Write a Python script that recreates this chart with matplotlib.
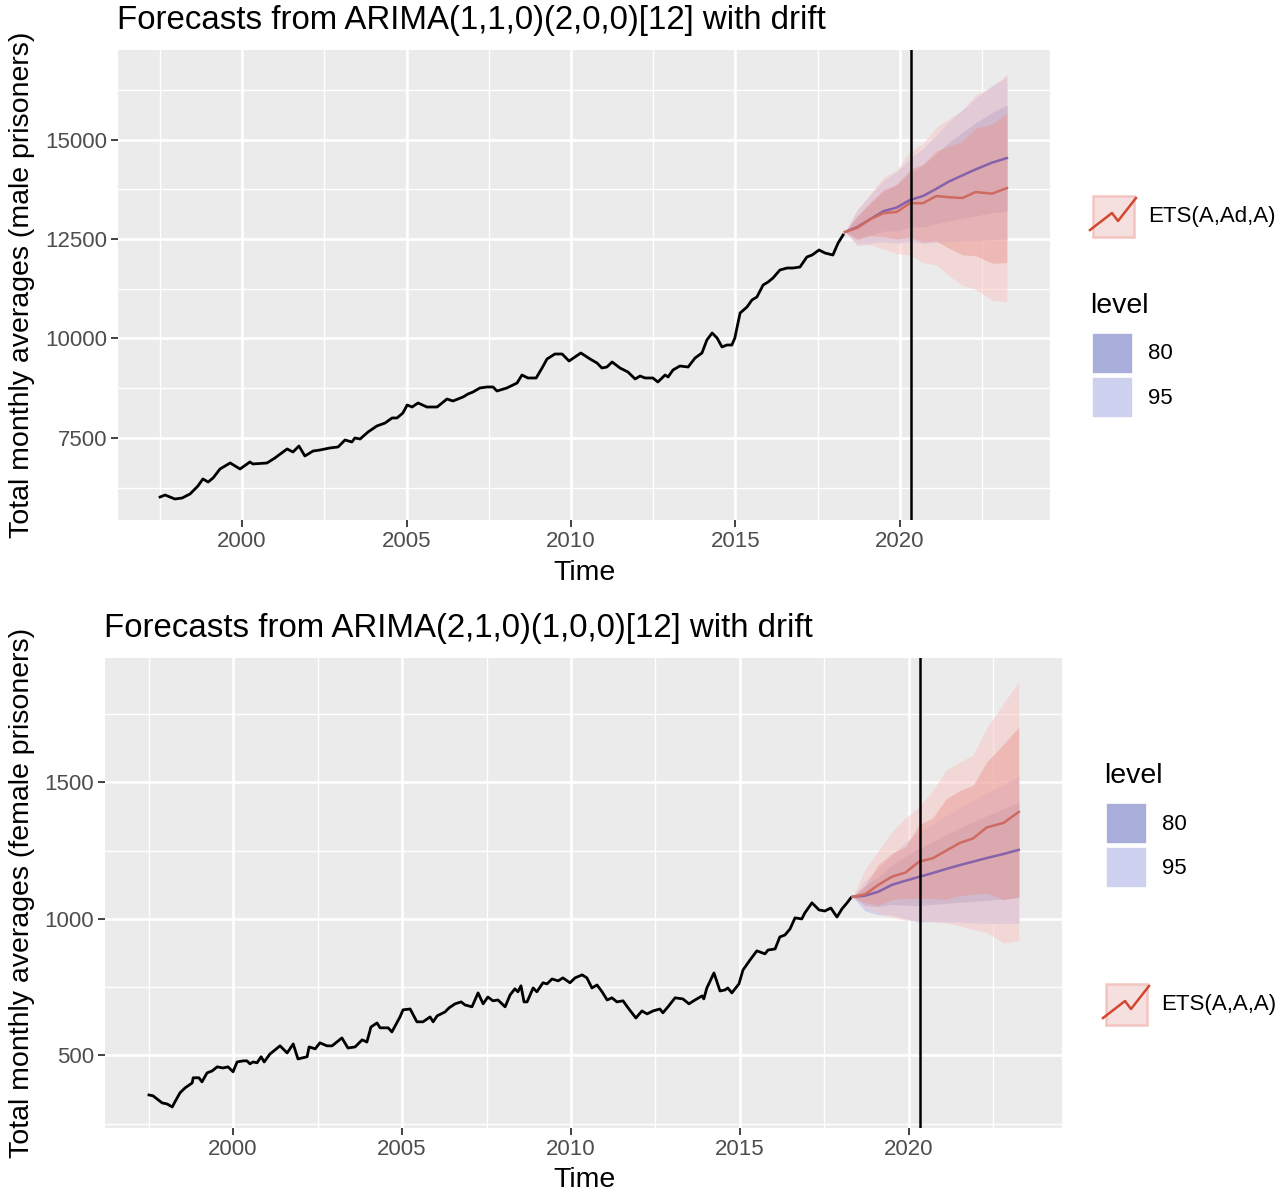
import numpy as np
import matplotlib
matplotlib.use("Agg")
from matplotlib import pyplot as plt
from matplotlib.patches import Rectangle
from matplotlib.lines import Line2D

plt.rcParams['font.family'] = ['Liberation Sans', 'DejaVu Sans']

W, H = 1288, 1193

# ---- male series ----
male_t = [1997.51, 1997.66, 1997.96, 1998.18, 1998.42, 1998.66, 1998.81, 1998.97, 1999.12, 1999.33,
          1999.64, 1999.94, 2000.24, 2000.33, 2000.76, 2001.0, 2001.37, 2001.55, 2001.73, 2001.91,
          2002.16, 2002.37, 2002.67, 2002.92, 2003.13, 2003.34, 2003.43, 2003.59, 2003.83, 2004.1,
          2004.35, 2004.56, 2004.71, 2004.89, 2005.02, 2005.17, 2005.35, 2005.62, 2005.93, 2006.23,
          2006.41, 2006.72, 2006.87, 2007.02, 2007.23, 2007.45, 2007.63, 2007.75, 2008.05, 2008.36,
          2008.51, 2008.69, 2008.94, 2009.12, 2009.27, 2009.51, 2009.73, 2009.94, 2010.12, 2010.3,
          2010.58, 2010.79, 2010.94, 2011.09, 2011.25, 2011.49, 2011.73, 2011.95, 2012.1, 2012.25,
          2012.49, 2012.64, 2012.86, 2012.95, 2013.1, 2013.31, 2013.56, 2013.77, 2013.98, 2014.13,
          2014.29, 2014.44, 2014.59, 2014.74, 2014.89, 2014.98, 2015.14, 2015.35, 2015.5, 2015.65,
          2015.84, 2015.99, 2016.14, 2016.35, 2016.57, 2016.75, 2016.96, 2017.17, 2017.33, 2017.54,
          2017.72, 2017.96, 2018.12, 2018.27]
male_v = [6016, 6066, 5966, 5991, 6092, 6293, 6469, 6393, 6494, 6720,
          6871, 6720, 6896, 6846, 6871, 6997, 7223, 7147, 7298, 7047,
          7172, 7197, 7248, 7273, 7449, 7399, 7499, 7474, 7650, 7801,
          7876, 8002, 8002, 8127, 8328, 8278, 8379, 8278, 8278, 8479,
          8429, 8530, 8605, 8655, 8756, 8781, 8781, 8680, 8756, 8881,
          9082, 9007, 9007, 9258, 9484, 9610, 9610, 9434, 9535, 9635,
          9484, 9384, 9258, 9283, 9409, 9258, 9158, 8982, 9057, 9007,
          9007, 8906, 9082, 9032, 9208, 9308, 9283, 9509, 9635, 9962,
          10138, 10012, 9786, 9836, 9836, 10012, 10640, 10791, 10967, 11042,
          11344, 11419, 11520, 11721, 11771, 11771, 11796, 12048, 12098, 12224,
          12148, 12098, 12400, 12600]

# ---- female series ----
female_t = [1997.51, 1997.63, 1997.9, 1998.05, 1998.2, 1998.28, 1998.43, 1998.58, 1998.79, 1998.82,
            1998.99, 1999.08, 1999.23, 1999.38, 1999.53, 1999.7, 1999.85, 2000.0, 2000.12, 2000.3,
            2000.41, 2000.5, 2000.59, 2000.71, 2000.83, 2000.92, 2001.09, 2001.24, 2001.39, 2001.6,
            2001.78, 2001.92, 2002.19, 2002.25, 2002.43, 2002.57, 2002.78, 2002.93, 2003.22, 2003.4,
            2003.61, 2003.82, 2003.96, 2004.08, 2004.26, 2004.35, 2004.59, 2004.7, 2004.94, 2005.03,
            2005.24, 2005.44, 2005.62, 2005.83, 2005.92, 2006.04, 2006.27, 2006.39, 2006.57, 2006.75,
            2006.86, 2007.07, 2007.25, 2007.4, 2007.54, 2007.69, 2007.84, 2008.05, 2008.2, 2008.34,
            2008.43, 2008.52, 2008.61, 2008.7, 2008.88, 2008.99, 2009.17, 2009.29, 2009.44, 2009.62,
            2009.76, 2009.97, 2010.12, 2010.33, 2010.47, 2010.62, 2010.77, 2010.92, 2011.07, 2011.21,
            2011.36, 2011.54, 2011.69, 2011.92, 2012.1, 2012.25, 2012.43, 2012.63, 2012.72, 2012.87,
            2013.08, 2013.31, 2013.49, 2013.67, 2013.88, 2013.93, 2014.02, 2014.23, 2014.41, 2014.56,
            2014.64, 2014.76, 2014.97, 2015.09, 2015.3, 2015.5, 2015.74, 2015.83, 2016.04, 2016.18,
            2016.33, 2016.48, 2016.63, 2016.83, 2016.92, 2017.13, 2017.34, 2017.51, 2017.69, 2017.87,
            2018.02, 2018.17, 2018.28]
female_v = [355, 352, 326, 322, 311, 330, 363, 381, 399, 418,
            418, 403, 436, 443, 458, 454, 458, 440, 476, 480,
            480, 469, 476, 473, 495, 476, 505, 520, 535, 509,
            542, 487, 495, 531, 524, 546, 535, 535, 564, 527,
            531, 557, 549, 604, 619, 601, 601, 586, 641, 667,
            670, 623, 623, 641, 623, 645, 659, 674, 689, 696,
            685, 678, 729, 689, 714, 700, 703, 678, 722, 744,
            733, 755, 696, 696, 747, 733, 766, 762, 780, 773,
            784, 766, 784, 795, 784, 747, 758, 733, 703, 711,
            696, 700, 674, 637, 663, 652, 663, 670, 656, 678,
            711, 707, 689, 703, 718, 707, 747, 802, 736, 740,
            747, 729, 762, 813, 850, 883, 872, 886, 890, 934,
            941, 963, 1004, 1000, 1022, 1059, 1033, 1029, 1040, 1007,
            1037, 1059, 1077]

# ---- forecasts ----
fc_t = [2018.33, 2018.7, 2019.1, 2019.5, 2019.9, 2020.3, 2020.7, 2021.1, 2021.5, 2021.9, 2022.3, 2022.8, 2023.25]

m_arima_mean = [12676, 12800, 13000, 13200, 13290, 13480, 13580, 13760, 13950, 14100, 14250, 14420, 14535]
m_arima_lo80 = [12676, 12520, 12600, 12700, 12700, 12800, 12800, 12880, 12960, 13020, 13080, 13160, 13205]
m_arima_hi80 = [12676, 13080, 13400, 13700, 13880, 14160, 14360, 14640, 14940, 15180, 15420, 15680, 15865]
m_arima_lo95 = [12676, 12370, 12390, 12430, 12390, 12440, 12390, 12410, 12440, 12450, 12460, 12490, 12495]
m_arima_hi95 = [12676, 13230, 13610, 13970, 14190, 14520, 14770, 15110, 15460, 15750, 16040, 16350, 16575]
m_ets_mean = [12676, 12780, 13000, 13150, 13180, 13400, 13400, 13580, 13550, 13530, 13680, 13640, 13780]
m_ets_lo80 = [12676, 12490, 12580, 12560, 12500, 12550, 12420, 12450, 12260, 12100, 12080, 11890, 11910]
m_ets_hi80 = [12676, 13070, 13420, 13740, 13860, 14250, 14380, 14710, 14840, 14960, 15280, 15390, 15650]
m_ets_lo95 = [12676, 12330, 12360, 12250, 12130, 12100, 11900, 11850, 11570, 11330, 11230, 10960, 10920]
m_ets_hi95 = [12676, 13230, 13640, 14050, 14230, 14700, 14900, 15310, 15530, 15730, 16130, 16320, 16640]

f_arima_mean = [1081, 1085, 1100, 1125, 1140, 1154, 1168, 1183, 1197, 1210, 1223, 1238, 1253]
f_arima_lo80 = [1081, 1049, 1045, 1053, 1050, 1049, 1053, 1057, 1061, 1064, 1068, 1073, 1078]
f_arima_hi80 = [1081, 1121, 1155, 1197, 1230, 1259, 1283, 1309, 1333, 1356, 1378, 1403, 1428]
f_arima_lo95 = [1081, 1030, 1015, 1015, 1000, 989, 990, 988, 987, 985, 983, 983, 983]
f_arima_hi95 = [1081, 1140, 1185, 1235, 1280, 1319, 1346, 1378, 1407, 1435, 1463, 1493, 1523]
f_ets_mean = [1081, 1090, 1125, 1155, 1170, 1210, 1222, 1250, 1278, 1295, 1335, 1352, 1392]
f_ets_lo80 = [1081, 1060, 1050, 1070, 1075, 1075, 1075, 1070, 1085, 1090, 1095, 1070, 1081]
f_ets_hi80 = [1081, 1120, 1200, 1240, 1265, 1345, 1370, 1440, 1470, 1490, 1575, 1640, 1703]
f_ets_lo95 = [1081, 1040, 1020, 1005, 995, 995, 990, 985, 975, 960, 950, 912, 920]
f_ets_hi95 = [1081, 1180, 1250, 1320, 1370, 1410, 1470, 1545, 1575, 1600, 1700, 1790, 1868]

vline_year = 2020.33

BG = '#EBEBEB'
A95, A80 = '#CDD0EE', '#A9ADDA'
E95, E80 = '#F8C6C2', '#EC958D'
ARIMA_LINE = '#8562AA'
ETS_LINE = '#CF6A60'


def px(x, y):
    return (x / W, 1 - y / H)


def style_axes(ax, xlim, ylim, yticks, yminor):
    ax.set_facecolor(BG)
    ax.set_xlim(*xlim)
    ax.set_ylim(*ylim)
    ax.set_xticks([2000, 2005, 2010, 2015, 2020])
    ax.set_xticks([1997.5, 2002.5, 2007.5, 2012.5, 2017.5, 2022.5], minor=True)
    ax.set_yticks(yticks)
    ax.set_yticks(yminor, minor=True)
    ax.grid(which='major', color='white', linewidth=1.9)
    ax.grid(which='minor', color='white', linewidth=0.95)
    ax.set_axisbelow(True)
    for s in ax.spines.values():
        s.set_visible(False)
    ax.tick_params(which='major', length=5, width=1.3, color='#333333',
                   labelsize=16, labelcolor='#4D4D4D', pad=3)
    ax.tick_params(which='minor', length=0)


def draw_panel(ax, t, v, am, al8, ah8, al9, ah9, em, el8, eh8, el9, eh9):
    ax.plot(t, v, color='black', linewidth=2.0, zorder=3)
    ax.fill_between(fc_t, al9, ah9, color=A95, linewidth=0, zorder=2)
    ax.fill_between(fc_t, al8, ah8, color=A80, linewidth=0, zorder=2)
    ax.fill_between(fc_t, el9, eh9, color=E95, alpha=0.5, linewidth=0, zorder=2)
    ax.fill_between(fc_t, el8, eh8, color=E80, alpha=0.45, linewidth=0, zorder=2)
    ax.plot(fc_t, am, color=ARIMA_LINE, linewidth=1.8, zorder=3)
    ax.plot(fc_t, em, color=ETS_LINE, linewidth=1.8, zorder=3)
    ax.axvline(vline_year, color='black', linewidth=1.8, zorder=4)


fig = plt.figure(figsize=(W / 100, H / 100), dpi=100)

ax1 = fig.add_axes([118 / W, 1 - 520 / H, 932 / W, 470 / H])
style_axes(ax1, (1996.23, 2024.56), (5438, 17250), [7500, 10000, 12500, 15000],
           [6250, 8750, 11250, 13750, 16250])
draw_panel(ax1, male_t, male_v, m_arima_mean, m_arima_lo80, m_arima_hi80, m_arima_lo95, m_arima_hi95,
           m_ets_mean, m_ets_lo80, m_ets_hi80, m_ets_lo95, m_ets_hi95)

ax2 = fig.add_axes([105 / W, 1 - 1128 / H, 957 / W, 470 / H])
style_axes(ax2, (1996.21, 2024.53), (234, 1956), [500, 1000, 1500], [250, 750, 1250, 1750])
draw_panel(ax2, female_t, female_v, f_arima_mean, f_arima_lo80, f_arima_hi80, f_arima_lo95, f_arima_hi95,
           f_ets_mean, f_ets_lo80, f_ets_hi80, f_ets_lo95, f_ets_hi95)

# titles and axis titles
fig.text(*px(117, 21), 'Forecasts from ARIMA(1,1,0)(2,0,0)[12] with drift', fontsize=23.8, va='center')
fig.text(*px(104, 629), 'Forecasts from ARIMA(2,1,0)(1,0,0)[12] with drift', fontsize=23.8, va='center')
fig.text(*px(584, 573), 'Time', fontsize=20.5, ha='center', va='center')
fig.text(*px(584, 1180), 'Time', fontsize=20.5, ha='center', va='center')
fig.text(*px(22, 285), 'Total monthly averages (male prisoners)', fontsize=20.5, rotation=90,
         ha='center', va='center')
fig.text(*px(22, 893), 'Total monthly averages (female prisoners)', fontsize=20.5, rotation=90,
         ha='center', va='center')


def ets_key(x0, y0, label):
    w, h = 41, 41
    fig.add_artist(Rectangle(px(x0, y0 + h), w / W, h / H, transform=fig.transFigure,
                             facecolor='#F6E0DF', edgecolor='#F4C4C1', linewidth=1.8))
    xs = [x0 - 3, x0 + 19, x0 + 25, x0 + 43]
    ys = [y0 + 34, y0 + 17, y0 + 25, y0 + 2]
    fx = [x / W for x in xs]
    fy = [1 - y / H for y in ys]
    fig.add_artist(Line2D(fx, fy, transform=fig.transFigure, color='#D3472F', linewidth=1.8))
    fig.text(*px(x0 + 55, y0 + h / 2), label, fontsize=16, va='center')


def level_keys(x0, y0):
    fig.text(*px(x0, y0), 'level', fontsize=20.5, va='center')
    for i, (c, lab) in enumerate([(A80, '80'), (A95, '95')]):
        yt = y0 + 27 + i * 44
        fig.add_artist(Rectangle(px(x0 + 2, yt + 41), 41 / W, 41 / H, transform=fig.transFigure,
                                 facecolor=c, edgecolor='white', linewidth=1.2))
        fig.text(*px(x0 + 58, yt + 21), lab, fontsize=16, va='center')


ets_key(1093, 196, 'ETS(A,Ad,A)')
level_keys(1090, 306)
level_keys(1104, 776)
ets_key(1106, 984, 'ETS(A,A,A)')

fig.savefig('out.png', dpi=100, facecolor='white')
